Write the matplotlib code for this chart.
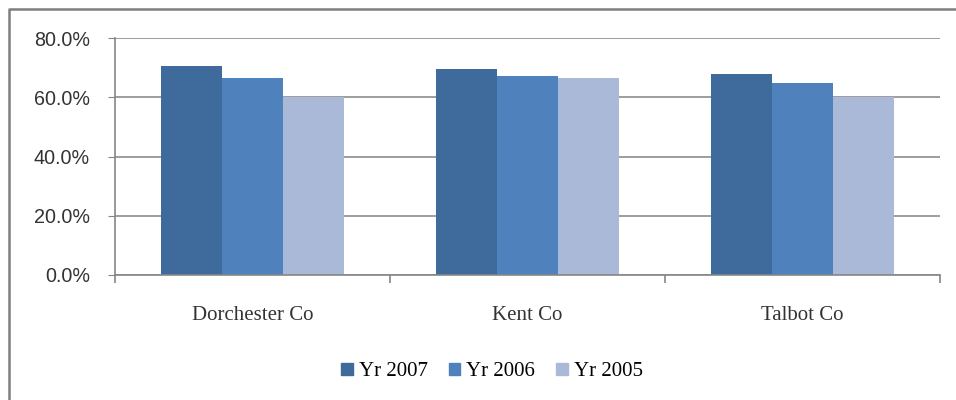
import numpy as np
import matplotlib.pyplot as plt
from matplotlib.patches import Patch
from matplotlib.lines import Line2D

counties = ['Dorchester Co', 'Kent Co', 'Talbot Co']
years = ['Yr 2007', 'Yr 2006', 'Yr 2005']
yr2007 = [70.6, 69.4, 67.7]
yr2006 = [66.4, 67.3, 64.7]
yr2005 = [60.1, 66.4, 60.1]
colors = ['#3F6A9C', '#4F81BD', '#AAB9D7']

fig = plt.figure(figsize=(9.56, 4.0), dpi=100)
ax = fig.add_axes([115 / 956, 125 / 400, 825 / 956, 237 / 400])

index = np.arange(len(counties))
w = 1 / 4.5
for k, vals in enumerate([yr2007, yr2006, yr2005]):
    ax.bar(index + (k - 1) * w, vals, width=w, color=colors[k], label=years[k], zorder=2)

ax.set_xlim(-0.5, 2.5)
ax.set_ylim(0, 80)
ax.set_yticks([0, 20, 40, 60, 80])
ax.set_yticklabels(['%.1f%%' % v for v in [0, 20, 40, 60, 80]],
                   fontsize=14.2, family='Liberation Sans', color='#333333')
ax.grid(axis='y', color='#8C8C8C', linewidth=1.2, zorder=0)
ax.tick_params(axis='y', length=5, color='#868686', pad=13)

# category labels centred, tick marks on the boundaries
ax.set_xticks(index)
ax.set_xticklabels(counties, fontsize=15, family='Liberation Serif', color='#333333')
ax.set_xticks([-0.5, 0.5, 1.5, 2.5], minor=True)
ax.tick_params(axis='x', which='major', length=0, pad=22)
ax.tick_params(axis='x', which='minor', length=6, color='#868686', width=1.2)

for s in ['top', 'right']:
    ax.spines[s].set_visible(False)
for s in ['left', 'bottom']:
    ax.spines[s].set_color('#868686')
    ax.spines[s].set_linewidth(1.2)

handles = [Patch(color=c, label=l) for c, l in zip(colors, years)]
fig.legend(handles=handles, loc='center', bbox_to_anchor=(492 / 956, 1 - 372 / 400),
           ncol=3, frameon=False, prop={'family': 'Liberation Serif', 'size': 15},
           handlelength=0.55, handleheight=0.55, handletextpad=0.3, columnspacing=1.0)

# outer chart border
fig.add_artist(Line2D([8.5 / 956, 8.5 / 956, 1.0], [0.0, 1 - 9 / 400, 1 - 9 / 400],
                      transform=fig.transFigure, color='#7F7F7F', linewidth=1.8))

fig.savefig('out.png', dpi=100)
